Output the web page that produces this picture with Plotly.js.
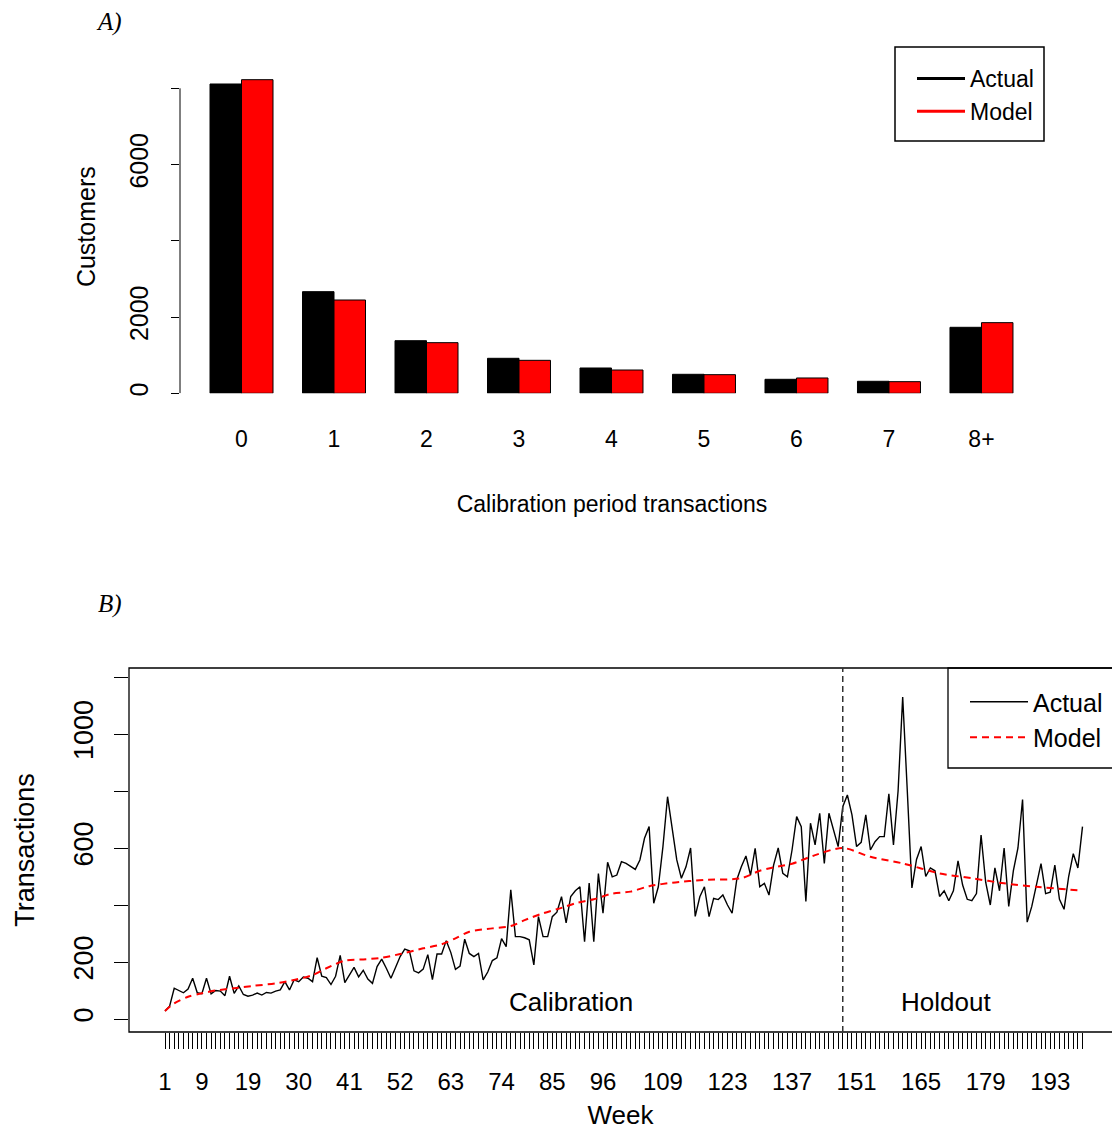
<!DOCTYPE html>
<html><head><meta charset="utf-8">
<script src="https://cdn.plot.ly/plotly-3.0.1.min.js"></script>
<style>html,body{margin:0;padding:0;background:#fff}#chart{width:1112px;height:1130px}</style>
</head><body><div id="chart"></div>
<script>
// ---------- Panel A data ----------
const categories = ['0','1','2','3','4','5','6','7','8+'];
const actualCustomers = [8113, 2666, 1380, 918, 664, 498, 367, 315, 1731];
const modelCustomers  = [8226, 2447, 1328, 865, 611, 489, 402, 305, 1853];
const customerTicks = [0, 2000, 4000, 6000, 8000];
const customerTickText = ['0', '2000', '', '6000', ''];

// ---------- Panel B data ----------
const actualTransactions = [
  28, 45, 108, 100, 92, 105, 143, 92, 89, 143,
  88, 100, 98, 82, 150, 90, 116, 86, 80, 84,
  91, 84, 93, 91, 98, 102, 131, 102, 137, 131,
  147, 143, 131, 215, 150, 145, 121, 150, 223, 128,
  154, 181, 148, 171, 140, 125, 184, 210, 178, 143,
  181, 219, 245, 239, 169, 162, 175, 226, 138, 228,
  228, 275, 233, 174, 186, 280, 230, 219, 230, 137,
  165, 205, 215, 282, 254, 453, 289, 289, 285, 278,
  190, 359, 289, 289, 359, 375, 429, 337, 430, 450,
  464, 271, 477, 271, 510, 371, 550, 499, 505, 552,
  546, 537, 525, 558, 634, 675, 406, 464, 605, 780,
  675, 558, 494, 534, 600, 360, 429, 464, 359, 423,
  419, 435, 400, 371, 488, 534, 572, 505, 599, 464,
  476, 435, 540, 600, 511, 499, 593, 710, 675, 412,
  687, 611, 722, 546, 722, 663, 605, 745, 786, 716,
  605, 620, 716, 593, 622, 640, 640, 790, 611, 800,
  1130, 800, 460, 560, 605, 500, 530, 520, 430, 450,
  415, 450, 555, 470, 420, 415, 440, 645, 480, 400,
  530, 450, 600, 395, 520, 600, 770, 340, 395, 470,
  545, 440, 445, 540, 420, 385, 500, 580, 530, 675
];
const modelWeeks = [1, 3, 6, 9, 12, 16, 20, 25, 29, 33, 36, 40, 44, 48, 52, 57, 61, 64, 67, 72,
  76, 79, 83, 87, 90, 94, 98, 102, 106, 111, 118, 126, 130, 133, 137, 142, 148, 154, 161, 169,
  176, 183, 190, 200];
const modelTransactions = [28, 55, 78, 90, 100, 108, 116, 125, 137, 154, 178, 205, 209, 215, 228, 248, 262, 283, 306, 318,
  326, 347, 371, 390, 406, 420, 440, 447, 466, 478, 488, 494, 520, 532, 545, 575, 600, 569, 546, 511,
  494, 476, 464, 450];
const weekLabels = [1, 9, 19, 30, 41, 52, 63, 74, 85, 96, 109, 123, 137, 151, 165, 179, 193];
const transactionTicks = [0, 200, 400, 600, 800, 1000, 1200];
const transactionTickText = ['0', '200', '', '600', '', '1000', ''];
const calibrationEndWeek = 148;

// ---------- helpers ----------
const W = 1112, H = 1130;
const px = x => x / W;
const py = y => 1 - y / H;
const weeks = actualTransactions.map((_, i) => i + 1);
const weekTickText = weeks.map(w => weekLabels.includes(w) ? String(w) : '');

const FONT = '"Liberation Sans", Arial, sans-serif';
const SERIF = '"Liberation Serif", "Times New Roman", serif';

// Panel A scale: 0 at y=393.3, 8000 at y=88.3
const aPerUnit = (393.3 - 88.3) / 8000;
const aTop = (393.3 - 60) / aPerUnit;
// Panel B scale: week 1 at x=165, last week at x=1082.5 ; 0 at y=1019, 1000 at y=734
const bPxWeek = (1082.5 - 165) / (weeks.length - 1);
const bX0 = 1 - (165 - 129) / bPxWeek;
const bX1 = 1 + (1112 - 165) / bPxWeek;
const bPerUnit = (1019 - 734) / 1000;
const bY0 = -(1032 - 1019) / bPerUnit;
const bY1 = (1019 - 668) / bPerUnit;

const traces = [
  {type: 'bar', x: categories, y: actualCustomers, name: 'Actual', showlegend: false,
   marker: {color: '#000000', line: {color: '#000000', width: 1}}, xaxis: 'x', yaxis: 'y'},
  {type: 'bar', x: categories, y: modelCustomers, name: 'Model', showlegend: false,
   marker: {color: '#ff0000', line: {color: '#000000', width: 1}}, xaxis: 'x', yaxis: 'y'},
  {type: 'scatter', mode: 'lines', x: [null], y: [null], name: 'Actual', legend: 'legend', legendgroup: 'a1',
   line: {color: '#000000', width: 3}, xaxis: 'x', yaxis: 'y'},
  {type: 'scatter', mode: 'lines', x: [null], y: [null], name: 'Model', legend: 'legend', legendgroup: 'm1',
   line: {color: '#ff0000', width: 3}, xaxis: 'x', yaxis: 'y'},
  {type: 'scatter', mode: 'lines', x: weeks, y: actualTransactions, name: 'Actual', legend: 'legend2', legendgroup: 'a2',
   line: {color: '#000000', width: 1.4}, xaxis: 'x2', yaxis: 'y2'},
  {type: 'scatter', mode: 'lines', x: modelWeeks, y: modelTransactions, name: 'Model', legend: 'legend2', legendgroup: 'm2',
   line: {color: '#ff0000', width: 2, dash: '7px,5px', shape: 'spline', smoothing: 0.8}, xaxis: 'x2', yaxis: 'y2'}
];

const layout = {
  width: W, height: H,
  margin: {l: 0, r: 0, t: 0, b: 0},
  paper_bgcolor: '#ffffff', plot_bgcolor: '#ffffff',
  font: {family: FONT, color: '#000000'},
  barmode: 'group', bargap: 0.319, bargroupgap: 0,
  xaxis: {
    domain: [px(180), px(1044)], range: [-0.665, 8.676], anchor: 'y', type: 'category',
    showline: false, showgrid: false, zeroline: false, ticks: '',
    tickfont: {size: 23, family: FONT}, ticklabelstandoff: 30, automargin: false,
    title: {text: 'Calibration period transactions', font: {size: 23, family: FONT}, standoff: 44}
  },
  yaxis: {
    domain: [py(393.3), py(60)], range: [0, aTop], anchor: 'x',
    showline: false, showgrid: false, zeroline: false,
    tickvals: customerTicks, ticktext: customerTickText,
    ticks: 'outside', ticklen: 8, tickwidth: 1, tickcolor: '#000000',
    tickangle: -90, tickfont: {size: 25, family: FONT}, ticklabelstandoff: 13, automargin: false,
    title: {text: 'Customers', font: {size: 25, family: FONT}, standoff: 22}
  },
  xaxis2: {
    domain: [px(129), 1], range: [bX0, bX1], anchor: 'y2',
    showline: false, showgrid: false, zeroline: false,
    tickvals: weeks, ticktext: weekTickText,
    ticks: 'outside', ticklen: 16, tickwidth: 1, tickcolor: '#000000',
    tickangle: 0, tickfont: {size: 24, family: FONT}, ticklabelstandoff: 12, automargin: false,
    title: {text: 'Week', font: {size: 26, family: FONT}, standoff: 14}
  },
  yaxis2: {
    domain: [py(1032), py(668)], range: [bY0, bY1], anchor: 'x2',
    showline: false, showgrid: false, zeroline: false,
    tickvals: transactionTicks, ticktext: transactionTickText,
    ticks: 'outside', ticklen: 14, tickwidth: 1, tickcolor: '#000000',
    tickangle: -90, tickfont: {size: 27, family: FONT}, ticklabelstandoff: 10, automargin: false,
    title: {text: 'Transactions', font: {size: 27, family: FONT}, standoff: 26}
  },
  legend: {
    x: px(912), y: py(57), xanchor: 'left', yanchor: 'top',
    bgcolor: 'rgba(0,0,0,0)', borderwidth: 0, itemwidth: 48, tracegroupgap: 0,
    font: {size: 23, family: FONT}, itemclick: false, itemdoubleclick: false
  },
  legend2: {
    x: px(965), y: py(679), xanchor: 'left', yanchor: 'top',
    bgcolor: 'rgba(0,0,0,0)', borderwidth: 0, itemwidth: 58, tracegroupgap: 0,
    font: {size: 25, family: FONT}, itemclick: false, itemdoubleclick: false
  },
  shapes: [
    // panel A y-axis line (0 to 8000)
    {type: 'line', xref: 'x domain', yref: 'y', x0: 0, x1: 0, y0: 0, y1: 8000,
     line: {color: '#000000', width: 1}},
    // panel A legend box
    {type: 'rect', xref: 'paper', yref: 'paper', x0: px(895), x1: px(1044), y0: py(141), y1: py(47),
     line: {color: '#000000', width: 1.5}, fillcolor: 'rgba(0,0,0,0)'},
    // panel B frame
    {type: 'rect', xref: 'paper', yref: 'paper', x0: px(129), x1: 1.02, y0: py(1032), y1: py(668),
     line: {color: '#000000', width: 1.3}, fillcolor: 'rgba(0,0,0,0)'},
    // panel B legend box
    {type: 'rect', xref: 'paper', yref: 'paper', x0: px(948), x1: 1.02, y0: py(768), y1: py(668),
     line: {color: '#000000', width: 1.3}, fillcolor: 'rgba(0,0,0,0)'},
    // calibration end line
    {type: 'line', xref: 'x2', yref: 'y2 domain', x0: calibrationEndWeek, x1: calibrationEndWeek, y0: 0, y1: 1,
     line: {color: '#333333', width: 1.5, dash: '6px,4px'}}
  ],
  annotations: [
    {text: '<i>A)</i>', xref: 'paper', yref: 'paper', x: px(109), y: py(22), xanchor: 'center', yanchor: 'middle',
     showarrow: false, font: {family: SERIF, size: 25}},
    {text: '<i>B)</i>', xref: 'paper', yref: 'paper', x: px(110), y: py(604), xanchor: 'center', yanchor: 'middle',
     showarrow: false, font: {family: SERIF, size: 25}},
    {text: 'Calibration', xref: 'x2', yref: 'y2', x: 89, y: 58, showarrow: false,
     font: {size: 26, family: FONT}},
    {text: 'Holdout', xref: 'x2', yref: 'y2', x: 170.5, y: 58, showarrow: false,
     font: {size: 26, family: FONT}}
  ]
};

Plotly.newPlot('chart', traces, layout, {staticPlot: true, displayModeBar: false});
</script>
</body></html>
